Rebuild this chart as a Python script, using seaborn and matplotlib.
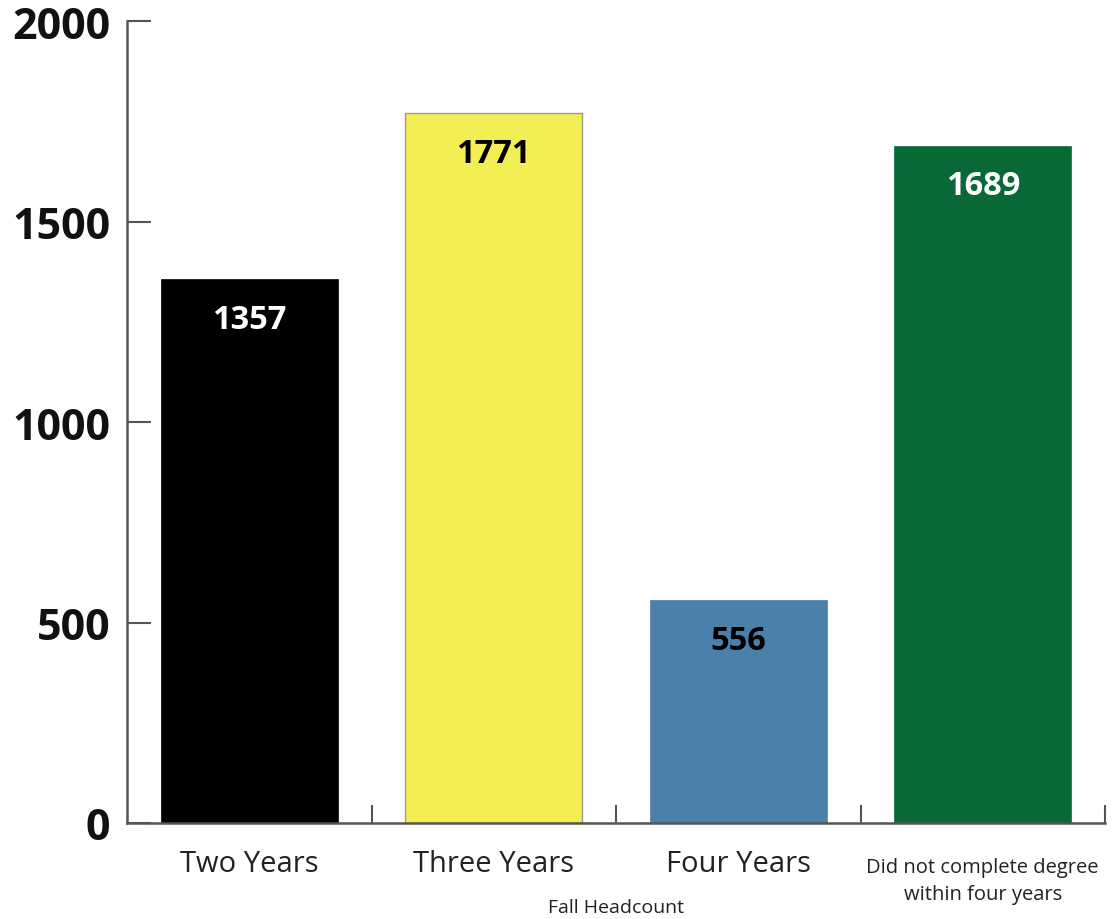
import matplotlib
matplotlib.use("Agg")
import matplotlib.pyplot as plt
import seaborn as sns
import pandas as pd
from matplotlib.ticker import FixedLocator

categories = ["Two Years", "Three Years", "Four Years",
              "Did not complete degree\nwithin four years"]
values = [1357, 1771, 556, 1689]
colors = ["#000000", "#F4EE55", "#4A80A9", "#086937"]
label_colors = ["white", "black", "black", "white"]
y_ticks = [0, 500, 1000, 1500, 2000]
x_label = "Fall Headcount"

sns.set_style("white")
plt.rcParams["font.family"] = ["Open Sans", "DejaVu Sans"]

df = pd.DataFrame({"cat": categories, "val": values})

fig = plt.figure(figsize=(11.14, 9.2), dpi=100)
ax = fig.add_axes([127/1114, 1 - 824/920, (1105 - 127)/1114, (824 - 22)/920])

sns.barplot(data=df, x="cat", y="val", hue="cat", palette=colors,
            order=categories, hue_order=categories, width=0.725,
            legend=False, ax=ax, saturation=1)

for i, p in enumerate(ax.patches):
    if i == 1:
        p.set_edgecolor("#9a9a8a")
        p.set_linewidth(1.0)
    else:
        p.set_edgecolor(colors[i])
        p.set_linewidth(0.5)

for i, v in enumerate(values):
    ax.annotate(str(v), xy=(i, v), xytext=(0, -29), textcoords="offset points",
                ha="center", va="center", fontsize=23.5, fontweight="bold",
                color=label_colors[i])

ax.set_xlim(-0.5, 3.5)
ax.set_ylim(0, 2000)
ax.set_yticks(y_ticks)
ax.set_yticklabels([str(t) for t in y_ticks], fontsize=31, fontweight="bold", color="#111111")
ax.tick_params(axis="y", left=True, direction="in", length=17, width=1.5,
               color="#555555", pad=12)

ax.set_xticks(range(len(categories)))
ax.set_xticklabels(categories)
ax.tick_params(axis="x", which="major", bottom=True, length=0, pad=19)
ax.xaxis.set_minor_locator(FixedLocator([0.5, 1.5, 2.5, 3.5]))
ax.tick_params(axis="x", which="minor", bottom=True, direction="in", length=13,
               width=1.5, color="#555555")
for i, lab in enumerate(ax.get_xticklabels()):
    if i == 3:
        lab.set_fontsize(14.5)
        lab.set_linespacing(1.5)
        lab.set_y(-0.009)
    else:
        lab.set_fontsize(21)
    lab.set_color("#222222")

ax.set_xlabel(x_label, fontsize=14, color="#222222", va="center")
ax.xaxis.set_label_coords(0.5, -0.105)
ax.set_ylabel("")

sns.despine(ax=ax, top=True, right=True)
for s in ["left", "bottom"]:
    ax.spines[s].set_color("#555555")
    ax.spines[s].set_linewidth(1.8)

fig.savefig("out.png", dpi=100)
